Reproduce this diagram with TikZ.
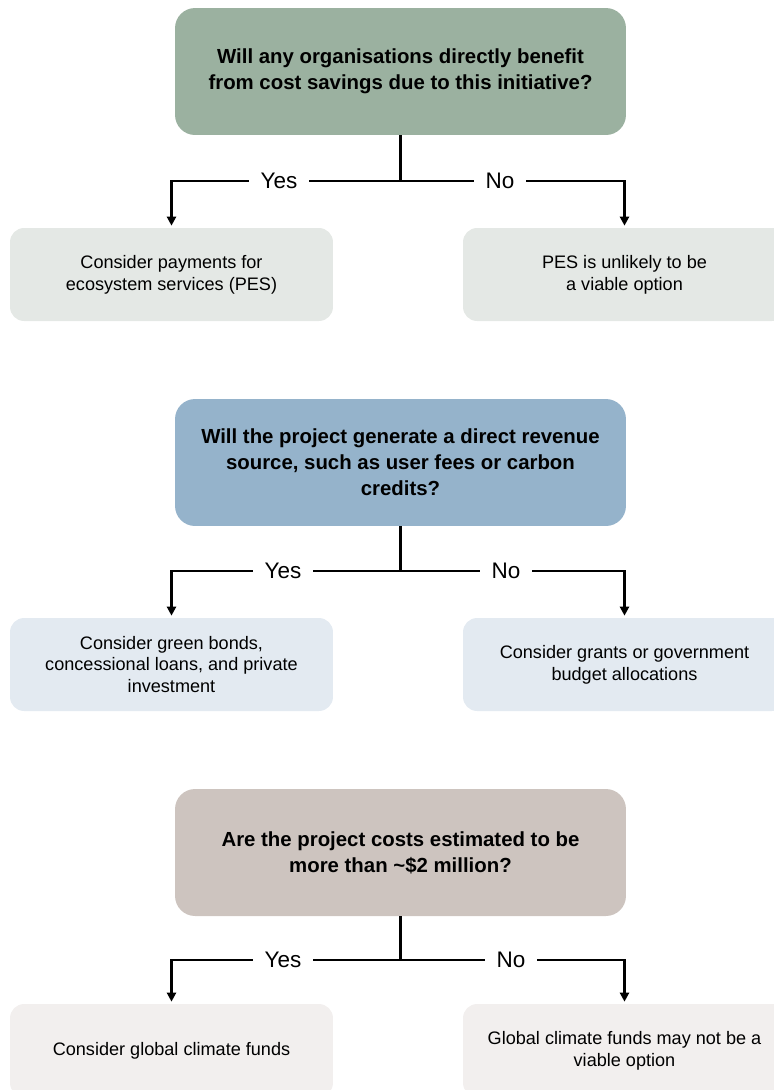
\documentclass[tikz,border=0pt]{standalone}
\usepackage{fontspec}
\setmainfont{Liberation Sans}
\usetikzlibrary{arrows.meta}

\definecolor{qgreen}{HTML}{9BB1A0}
\definecolor{qblue}{HTML}{95B3CB}
\definecolor{qtaupe}{HTML}{CDC4BF}
\definecolor{agreen}{HTML}{E4E8E5}
\definecolor{ablue}{HTML}{E3EAF1}
\definecolor{ataupe}{HTML}{F2EFEE}

\tikzset{
  question/.style={rectangle, rounded corners=0.4cm, minimum width=9.02cm,
    minimum height=2.54cm, inner sep=0pt, align=center,
    font=\fontsize{11.6}{14.9}\selectfont\bfseries},
  answer/.style={rectangle, rounded corners=0.28cm, minimum width=6.46cm,
    minimum height=1.86cm, inner sep=0pt, align=center,
    font=\fontsize{10.3}{12.4}\selectfont},
  choice/.style={fill=white, inner xsep=0.24cm, inner ysep=1pt,
    font=\fontsize{12.8}{14}\selectfont},
  link/.style={line width=1.3pt},
  arr/.style={line width=1.3pt, -{Triangle[width=5.2pt,length=5.2pt]},
    shorten >=0.04cm}
}

\begin{document}
\begin{tikzpicture}[x=0.02cm,y=-0.02cm]
             \useasboundingbox (0,0) rectangle (774,1090);
             \clip (0,0) rectangle (774,1090);

             % first question
             \node[question, fill=qgreen] (q1) at (400.5,71.5)
               {Will any organisations directly benefit\\from cost savings due to this initiative?};
             \node[answer, fill=agreen] (a1) at (171.5,274.5)
               {Consider payments for\\ecosystem services (PES)};
             \node[answer, fill=agreen] (b1) at (624.5,274.5)
               {PES is unlikely to be\\a viable option};
             \coordinate (j1) at (400.5,181);
             \draw[link] (q1.south) -- (j1);
             \draw[arr] (j1) -| (a1.north);
             \draw[arr] (j1) -| (b1.north);
             \node[choice] (y1) at (279,181) {Yes};
             \node[choice] (n1) at (500,181) {No};

             % second question
             \node[question, fill=qblue] (q2) at (400.5,462.5)
               {Will the project generate a direct revenue\\source, such as user fees or carbon\\credits?};
             \node[answer, fill=ablue] (a2) at (171.5,664.5)
               {Consider green bonds,\\concessional loans, and private\\investment};
             \node[answer, fill=ablue] (b2) at (624.5,664.5)
               {Consider grants or government\\budget allocations};
             \coordinate (j2) at (400.5,571);
             \draw[link] (q2.south) -- (j2);
             \draw[arr] (j2) -| (a2.north);
             \draw[arr] (j2) -| (b2.north);
             \node[choice] (y2) at (283,571) {Yes};
             \node[choice] (n2) at (506,571) {No};

             % third question
             \node[question, fill=qtaupe] (q3) at (400.5,852.5)
               {Are the project costs estimated to be\\more than \textasciitilde\$2 million?};
             \node[answer, fill=ataupe] (a3) at (171.5,1050.5)
               {Consider global climate funds};
             \node[answer, fill=ataupe] (b3) at (624.5,1050.5)
               {Global climate funds may not be a\\viable option};
             \coordinate (j3) at (400.5,960);
             \draw[link] (q3.south) -- (j3);
             \draw[arr] (j3) -| (a3.north);
             \draw[arr] (j3) -| (b3.north);
             \node[choice] (y3) at (283,960) {Yes};
             \node[choice] (n3) at (511,960) {No};
            \end{tikzpicture}
\end{document}
